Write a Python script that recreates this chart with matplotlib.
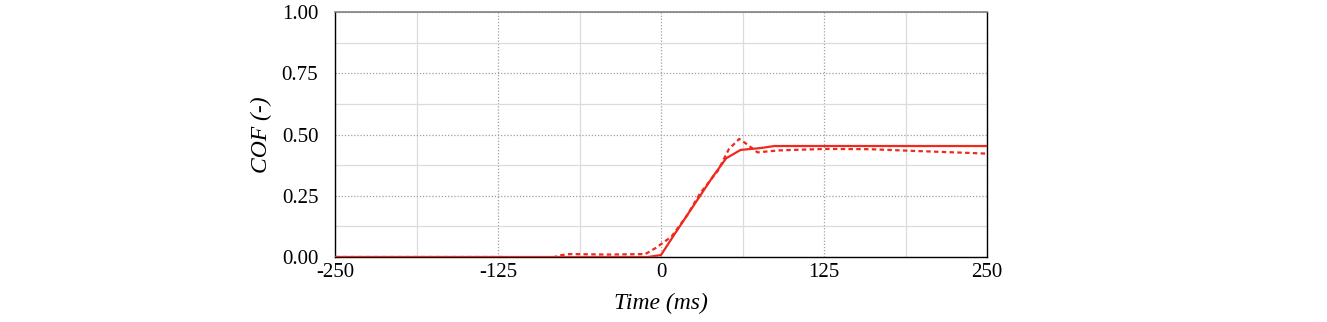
import matplotlib.pyplot as plt
import numpy as np
from matplotlib.ticker import MultipleLocator

plt.rcParams['axes.unicode_minus'] = False

# solid series
t_solid = [-250, -100, -10, 0, 10, 25, 40, 50, 61, 77, 87, 125, 200, 250]
cof_solid = [0.0, 0.0, 0.0, 0.008, 0.09, 0.21, 0.33, 0.403, 0.437, 0.445, 0.453, 0.453, 0.453, 0.453]

# dashed series
t_dash = [-250, -120, -110, -84, -76, -70, -40, -12, -4, 8, 20, 30, 44, 52, 60, 66, 74, 90, 125, 160, 189, 220, 250]
cof_dash = [0.0, 0.0, -0.003, -0.003, 0.008, 0.012, 0.01, 0.012, 0.037, 0.083, 0.17, 0.26, 0.355, 0.44, 0.482, 0.46, 0.427, 0.435, 0.441, 0.44, 0.434, 0.428, 0.422]

red = '#f0281e'

fig = plt.figure(figsize=(13.27, 3.22), dpi=100)
ax = fig.add_axes([335/1327, 1-257/322, 652/1327, 245/322])

ax.plot(t_solid, cof_solid, color=red, lw=1.6, zorder=3)
ax.plot(t_dash, cof_dash, color=red, lw=1.6, ls=(0, (2, 1.5)), zorder=3)

ax.set_xlim(-250, 250)
ax.set_ylim(0, 1)
ax.xaxis.set_major_locator(MultipleLocator(125))
ax.xaxis.set_minor_locator(MultipleLocator(62.5))
ax.yaxis.set_major_locator(MultipleLocator(0.25))
ax.yaxis.set_minor_locator(MultipleLocator(0.125))
ax.set_yticklabels(['%.2f' % v for v in ax.get_yticks()])
ax.grid(which='major', color='#a0a0a0', ls=(0, (1, 1.5)), lw=0.9)
ax.grid(which='minor', color='#dcdcdc', ls='-', lw=0.9)
ax.tick_params(which='both', length=0, labelsize=15)
ax.tick_params(axis='y', pad=12)
ax.tick_params(axis='x', pad=4)
for lab in ax.get_xticklabels() + ax.get_yticklabels():
    lab.set_family('Liberation Serif')

ax.spines['top'].set_color('#808080')
ax.spines['top'].set_linewidth(1.2)
for s in ['left', 'bottom', 'right']:
    ax.spines[s].set_color('black')
    ax.spines[s].set_linewidth(1.0)

ax.set_xlabel('Time (ms)', fontsize=17, style='italic', family='Liberation Serif')
ax.set_ylabel('COF (-)', fontsize=17, style='italic', family='Liberation Serif')
ax.xaxis.set_label_coords(0.5, -0.145)
ax.yaxis.set_label_coords(-0.097, 0.5)

fig.savefig('out.png', dpi=100)
